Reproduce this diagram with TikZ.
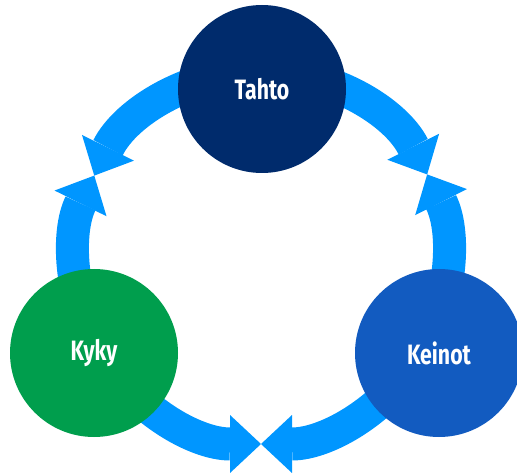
\documentclass[tikz,border=0pt]{standalone}
\usepackage{fontspec}
\newfontfamily\hubfont[FakeStretch=0.76]{Fira Sans}
\usepackage{tikz}
\usetikzlibrary{arrows.meta}
\definecolor{ringblue}{HTML}{0096FF}
\definecolor{tahtoblue}{HTML}{002B6C}
\definecolor{kykygreen}{HTML}{009E4D}
\definecolor{keinotblue}{HTML}{125BC0}
\tikzset{
	hub/.style={circle, minimum size=168pt, inner sep=0pt, text=white,
		font=\hubfont\bfseries\fontsize{28}{30}\selectfont},
	ringarrow/.style={ringblue, line width=33pt,
		-{Triangle[width=58pt, length=31pt, line width=0pt]}}
}
\newcommand{\drawringarrow}[2]{   % start angle, end angle
	\draw[ringarrow] (ring) ++(#1:186pt) arc[start angle=#1, end angle=#2, radius=186pt];
}

\begin{document}
\begin{tikzpicture}[x=1pt, y=1pt]
\useasboundingbox (0,0) rectangle (517,472);
\coordinate (ring) at (261,214);

% arrows, tip to tip
\drawringarrow{90}{153.7};
\drawringarrow{210}{153.7};
\drawringarrow{90}{26.7};
\drawringarrow{-30}{26.7};
\drawringarrow{210}{270};
\drawringarrow{330}{270};

\node[hub, fill=tahtoblue] (tahto) at (262,383) {Tahto};
\node[hub, fill=kykygreen] (kyky) at (94,119) {Kyky};
\node[hub, fill=keinotblue] (keinot) at (439,119) {Keinot};

\end{tikzpicture}
\end{document}
